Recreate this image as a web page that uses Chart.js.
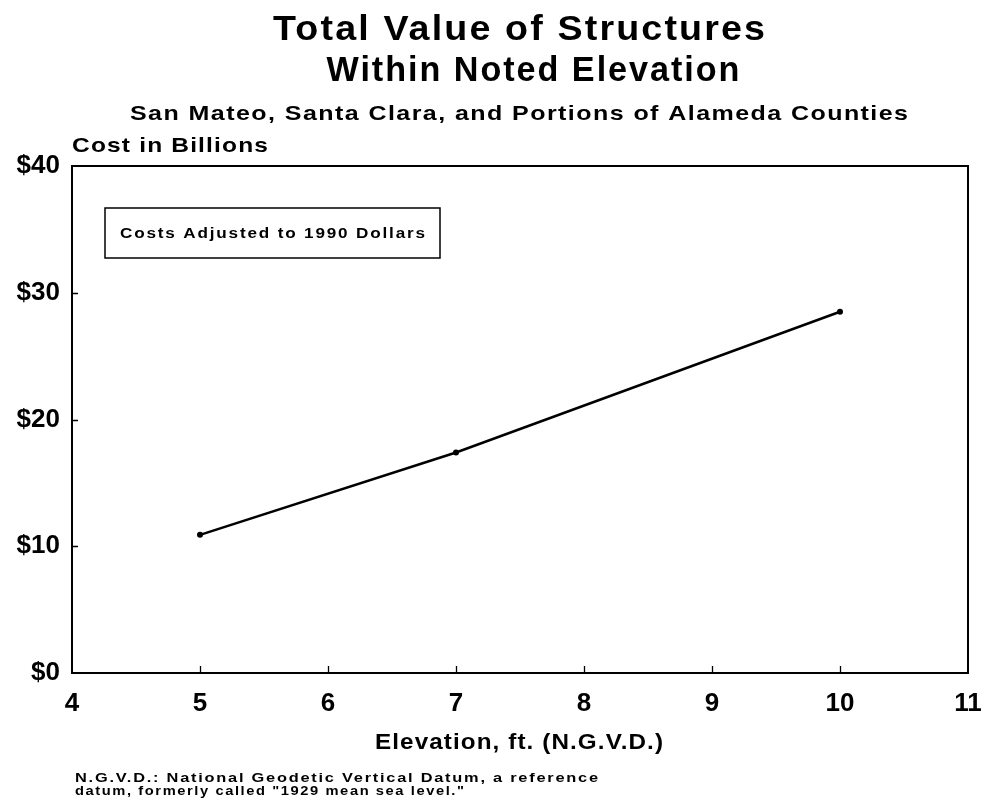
<!DOCTYPE html>
<html>
<head>
<meta charset="utf-8">
<script src="https://cdn.jsdelivr.net/npm/chart.js@4.4.1/dist/chart.umd.min.js"></script>
<style>
  html, body { margin: 0; padding: 0; background: #fff; }
  canvas { display: block; }
</style>
</head>
<body>
<canvas id="chart" width="985" height="806"></canvas>
<script>
// elevation (ft, N.G.V.D.) vs total value of structures ($ billions)
const elevations = [5, 7, 10];
const costs = [10.9, 17.4, 28.5];
const xTicks = [4, 5, 6, 7, 8, 9, 10, 11];
const yTicks = [0, 10, 20, 30, 40];

const titleLines = ['Total Value of Structures', 'Within Noted Elevation'];
const subtitle = 'San Mateo, Santa Clara, and Portions of Alameda Counties';
const yTitle = 'Cost in Billions';
const xTitle = 'Elevation, ft. (N.G.V.D.)';
const legendText = 'Costs Adjusted to 1990 Dollars';
const footnote = [
    'N.G.V.D.: National Geodetic Vertical Datum, a reference',
    'datum, formerly called "1929 mean sea level."'
];

const FONT = '"Liberation Sans", Arial, Helvetica, sans-serif';

// draw text stretched horizontally (plus a little letter spacing) to a target width
function wideText(ctx, text, x, y, size, weight, width, align, sp) {
    ctx.save();
    ctx.font = `${weight} ${size}px ${FONT}`;
    ctx.letterSpacing = sp + 'px';
    ctx.textAlign = 'left';
    const w = ctx.measureText(text).width - sp;
    const sx = width / w;
    const left = align === 'center' ? x - width / 2 : x;
    ctx.translate(left, y);
    ctx.scale(sx, 1);
    ctx.fillText(text, 0, 0);
    ctx.restore();
}

const decorations = {
    id: 'decorations',
    afterDraw(chart) {
        const ctx = chart.ctx;
        const a = chart.chartArea;
        const xs = chart.scales.x;
        const ys = chart.scales.y;
        ctx.save();
        ctx.fillStyle = '#000';
        ctx.strokeStyle = '#000';
        ctx.textBaseline = 'alphabetic';

        // plot frame
        ctx.lineWidth = 2;
        ctx.strokeRect(a.left, a.top, a.right - a.left, a.bottom - a.top);

        // inward tick marks
        ctx.lineWidth = 1.3;
        ctx.beginPath();
        xTicks.slice(1, -1).forEach(v => {
            const px = Math.round(xs.getPixelForValue(v)) + 0.5;
            ctx.moveTo(px, a.bottom);
            ctx.lineTo(px, a.bottom - 7);
        });
        yTicks.slice(1, -1).forEach(v => {
            const py = Math.round(ys.getPixelForValue(v)) + 0.5;
            ctx.moveTo(a.left, py);
            ctx.lineTo(a.left + 6, py);
        });
        ctx.stroke();

        // titles
        wideText(ctx, titleLines[0], 519, 40, 35, 'bold', 492, 'center', 2);
        wideText(ctx, titleLines[1], 533, 81, 35, 'bold', 413, 'center', 2);
        wideText(ctx, subtitle, 519, 120, 21, 'bold', 778, 'center', 1.2);
        wideText(ctx, yTitle, a.left, 152, 21, 'bold', 196, 'left', 1);
        wideText(ctx, xTitle, 519, 749, 22, 'bold', 288, 'center', 1);

        // legend box
        ctx.lineWidth = 1.5;
        ctx.strokeRect(a.left + 33, a.top + 42, 335, 50);
        wideText(ctx, legendText, a.left + 48, a.top + 72, 14, 'bold', 305, 'left', 1.5);

        // footnote
        wideText(ctx, footnote[0], 75, 782, 13, 'bold', 523, 'left', 1.4);
        wideText(ctx, footnote[1], 75, 795, 13, 'bold', 389, 'left', 1.4);
        ctx.restore();
    }
};

new Chart(document.getElementById('chart'), {
    type: 'scatter',
    data: {
        datasets: [{
            data: elevations.map((e, i) => ({ x: e, y: costs[i] })),
            showLine: true,
            borderColor: '#000',
            borderWidth: 2.5,
            backgroundColor: '#000',
            pointRadius: 3,
            pointBorderWidth: 0
        }]
    },
    options: {
        responsive: false,
        animation: false,
        layout: { padding: { top: 166, right: 17, left: 0, bottom: 0 } },
        plugins: {
            legend: { display: false },
            tooltip: { enabled: false }
        },
        scales: {
            x: {
                type: 'linear',
                min: xTicks[0],
                max: xTicks[xTicks.length - 1],
                afterBuildTicks: s => { s.ticks = xTicks.map(v => ({ value: v })); },
                afterFit: s => { s.height = 133; s.paddingLeft = 0; s.paddingRight = 0; },
                grid: { display: false, drawTicks: false },
                border: { display: false },
                ticks: {
                    color: '#000',
                    padding: 15,
                    font: { family: FONT, size: 26, weight: 'bold' }
                }
            },
            y: {
                min: yTicks[0],
                max: yTicks[yTicks.length - 1],
                afterBuildTicks: s => { s.ticks = yTicks.map(v => ({ value: v })); },
                afterFit: s => { s.width = 72; s.paddingTop = 0; s.paddingBottom = 0; },
                grid: { display: false, drawTicks: false },
                border: { display: false },
                ticks: {
                    color: '#000',
                    padding: 12,
                    callback: v => '$' + v,
                    font: { family: FONT, size: 26, weight: 'bold' }
                }
            }
        }
    },
    plugins: [decorations]
});
</script>
</body>
</html>
